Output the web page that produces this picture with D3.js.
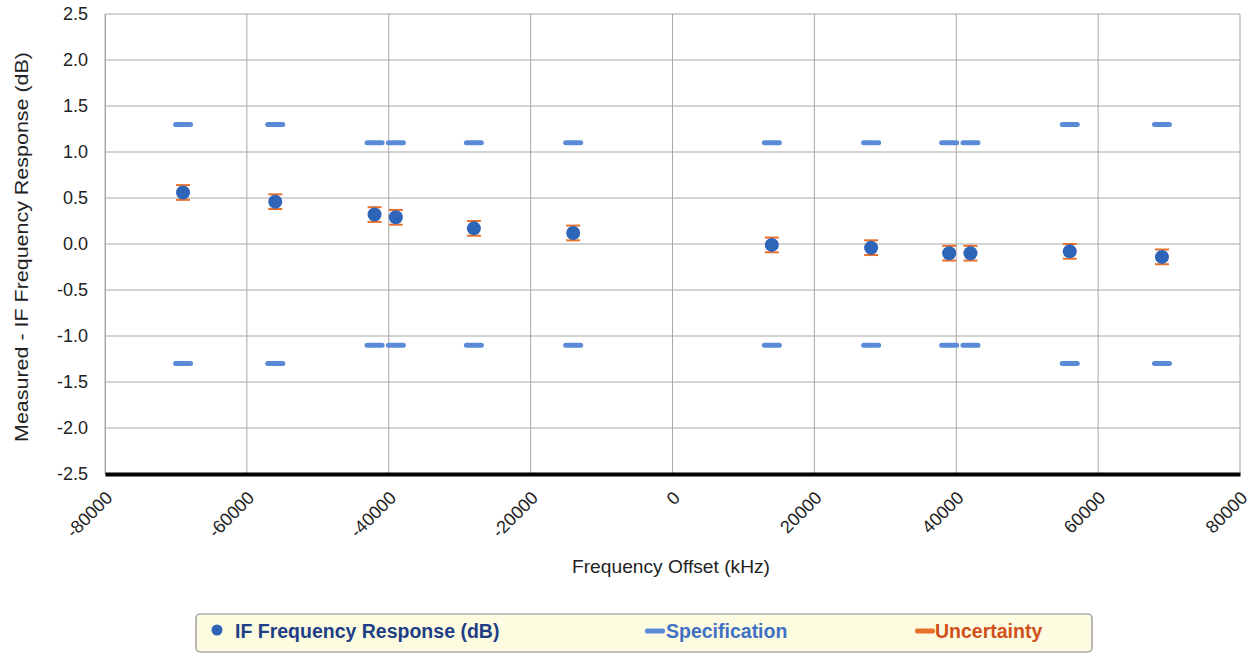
<!DOCTYPE html>
<html><head><meta charset="utf-8">
<script src="https://cdn.jsdelivr.net/npm/d3@7"></script>
<style>body{margin:0;background:#fff;} text{font-family:"Liberation Sans",Arial,sans-serif;}</style>
</head><body>
<svg id="c" width="1250" height="654"></svg>
<script>
const freqs = [-69000,-56000,-42000,-39000,-28000,-14000,14000,28000,39000,42000,56000,69000];
const response = [0.56,0.46,0.32,0.29,0.17,0.12,-0.01,-0.04,-0.10,-0.10,-0.08,-0.14];
const uncertainty = [0.08,0.08,0.08,0.08,0.08,0.08,0.08,0.08,0.08,0.08,0.08,0.08];
const specUpper = [1.3,1.3,1.1,1.1,1.1,1.1,1.1,1.1,1.1,1.1,1.3,1.3];
const specLower = [-1.3,-1.3,-1.1,-1.1,-1.1,-1.1,-1.1,-1.1,-1.1,-1.1,-1.3,-1.3];
const xTicks = [-80000,-60000,-40000,-20000,0,20000,40000,60000,80000];
const yTicks = [-2.5,-2.0,-1.5,-1.0,-0.5,0.0,0.5,1.0,1.5,2.0,2.5];
const legendLabels = ["IF Frequency Response (dB)","Specification","Uncertainty"];

const svg = d3.select("#c");
const L=105,R=1240,T=14,B=474;
const x = d3.scaleLinear().domain([-80000,80000]).range([L,R]);
const y = d3.scaleLinear().domain([-2.5,2.5]).range([B,T]);
const hy = s => s.replace("\u2212","-");

const grid = svg.append("g");
grid.selectAll(".gx").data(xTicks).join("line")
  .attr("x1",d=>x(d)).attr("x2",d=>x(d)).attr("y1",T).attr("y2",B)
  .attr("stroke","#a8a8a8").attr("stroke-width",1);
grid.selectAll(".gy").data(yTicks).join("line")
  .attr("x1",L).attr("x2",R).attr("y1",d=>y(d)).attr("y2",d=>y(d))
  .attr("stroke","#a8a8a8").attr("stroke-width",1);

// y axis
const ya = svg.append("g").attr("transform",`translate(${L},0)`)
  .call(d3.axisLeft(y).tickValues(yTicks).tickFormat(d=>hy(d3.format(".1f")(d))).tickSize(0).tickPadding(17));
ya.select(".domain").attr("stroke","#a8a8a8");
ya.selectAll("text").attr("font-size",18).attr("fill","#222");

// x axis
const xa = svg.append("g").attr("transform",`translate(0,${B})`)
  .call(d3.axisBottom(x).tickValues(xTicks).tickFormat(d=>String(d)).tickSize(0));
xa.select(".domain").attr("stroke","#000").attr("stroke-width",4);
xa.selectAll("text").attr("font-size",18).attr("fill","#222")
  .attr("text-anchor","end").attr("dy",null).attr("y",0)
  .attr("transform","translate(8,25) rotate(-45)");

// spec markers
const spec = freqs.flatMap((f,i)=>[{f,v:specUpper[i]},{f,v:specLower[i]}]);
svg.append("g").selectAll("rect").data(spec).join("rect")
  .attr("x",d=>x(d.f)-10).attr("y",d=>y(d.v)-2.5).attr("width",20).attr("height",5)
  .attr("rx",2.5).attr("fill","#5b8bd6");

// error bars
const eb = svg.append("g").attr("stroke","#e8702a").attr("stroke-width",2);
freqs.forEach((f,i)=>{
  const yt=y(response[i]+uncertainty[i]), yb=y(response[i]-uncertainty[i]);
  eb.append("line").attr("x1",x(f)).attr("x2",x(f)).attr("y1",yt).attr("y2",yb);
  eb.append("line").attr("x1",x(f)-7).attr("x2",x(f)+7).attr("y1",yt).attr("y2",yt);
  eb.append("line").attr("x1",x(f)-7).attr("x2",x(f)+7).attr("y1",yb).attr("y2",yb);
});

// points
svg.append("g").selectAll("circle").data(freqs).join("circle")
  .attr("cx",d=>x(d)).attr("cy",(d,i)=>y(response[i])).attr("r",7)
  .attr("fill","#2f65b8");

// axis titles
svg.append("text").attr("x",671).attr("y",573).attr("text-anchor","middle")
  .attr("font-size",19).attr("fill","#222").attr("textLength",198).attr("lengthAdjust","spacingAndGlyphs")
  .text("Frequency Offset (kHz)");
svg.append("text").attr("transform",`translate(28,247) rotate(-90)`)
  .attr("text-anchor","middle").attr("font-size",19).attr("fill","#222")
  .attr("textLength",390).attr("lengthAdjust","spacingAndGlyphs")
  .text("Measured - IF Frequency Response (dB)");

// legend
const lg = svg.append("g");
lg.append("rect").attr("x",196).attr("y",614).attr("width",896).attr("height",38)
  .attr("rx",4).attr("fill","#fdfbe0").attr("stroke","#888").attr("stroke-width",1.2);
lg.append("circle").attr("cx",217).attr("cy",630).attr("r",5.5).attr("fill","#2f65b8");
lg.append("text").attr("x",235).attr("y",638).attr("font-size",19.5).attr("font-weight","bold")
  .attr("fill","#1e3f86").text(legendLabels[0]);
lg.append("rect").attr("x",645).attr("y",628.5).attr("width",20).attr("height",5).attr("rx",2).attr("fill","#5b8bd6");
lg.append("text").attr("x",666).attr("y",638).attr("font-size",19.5).attr("font-weight","bold")
  .attr("fill","#3f70c4").text(legendLabels[1]);
lg.append("rect").attr("x",915).attr("y",628.5).attr("width",20).attr("height",5).attr("rx",2).attr("fill","#e8702a");
lg.append("text").attr("x",935).attr("y",638).attr("font-size",19.5).attr("font-weight","bold")
  .attr("fill","#d0501a").text(legendLabels[2]);
</script>
</body></html>
